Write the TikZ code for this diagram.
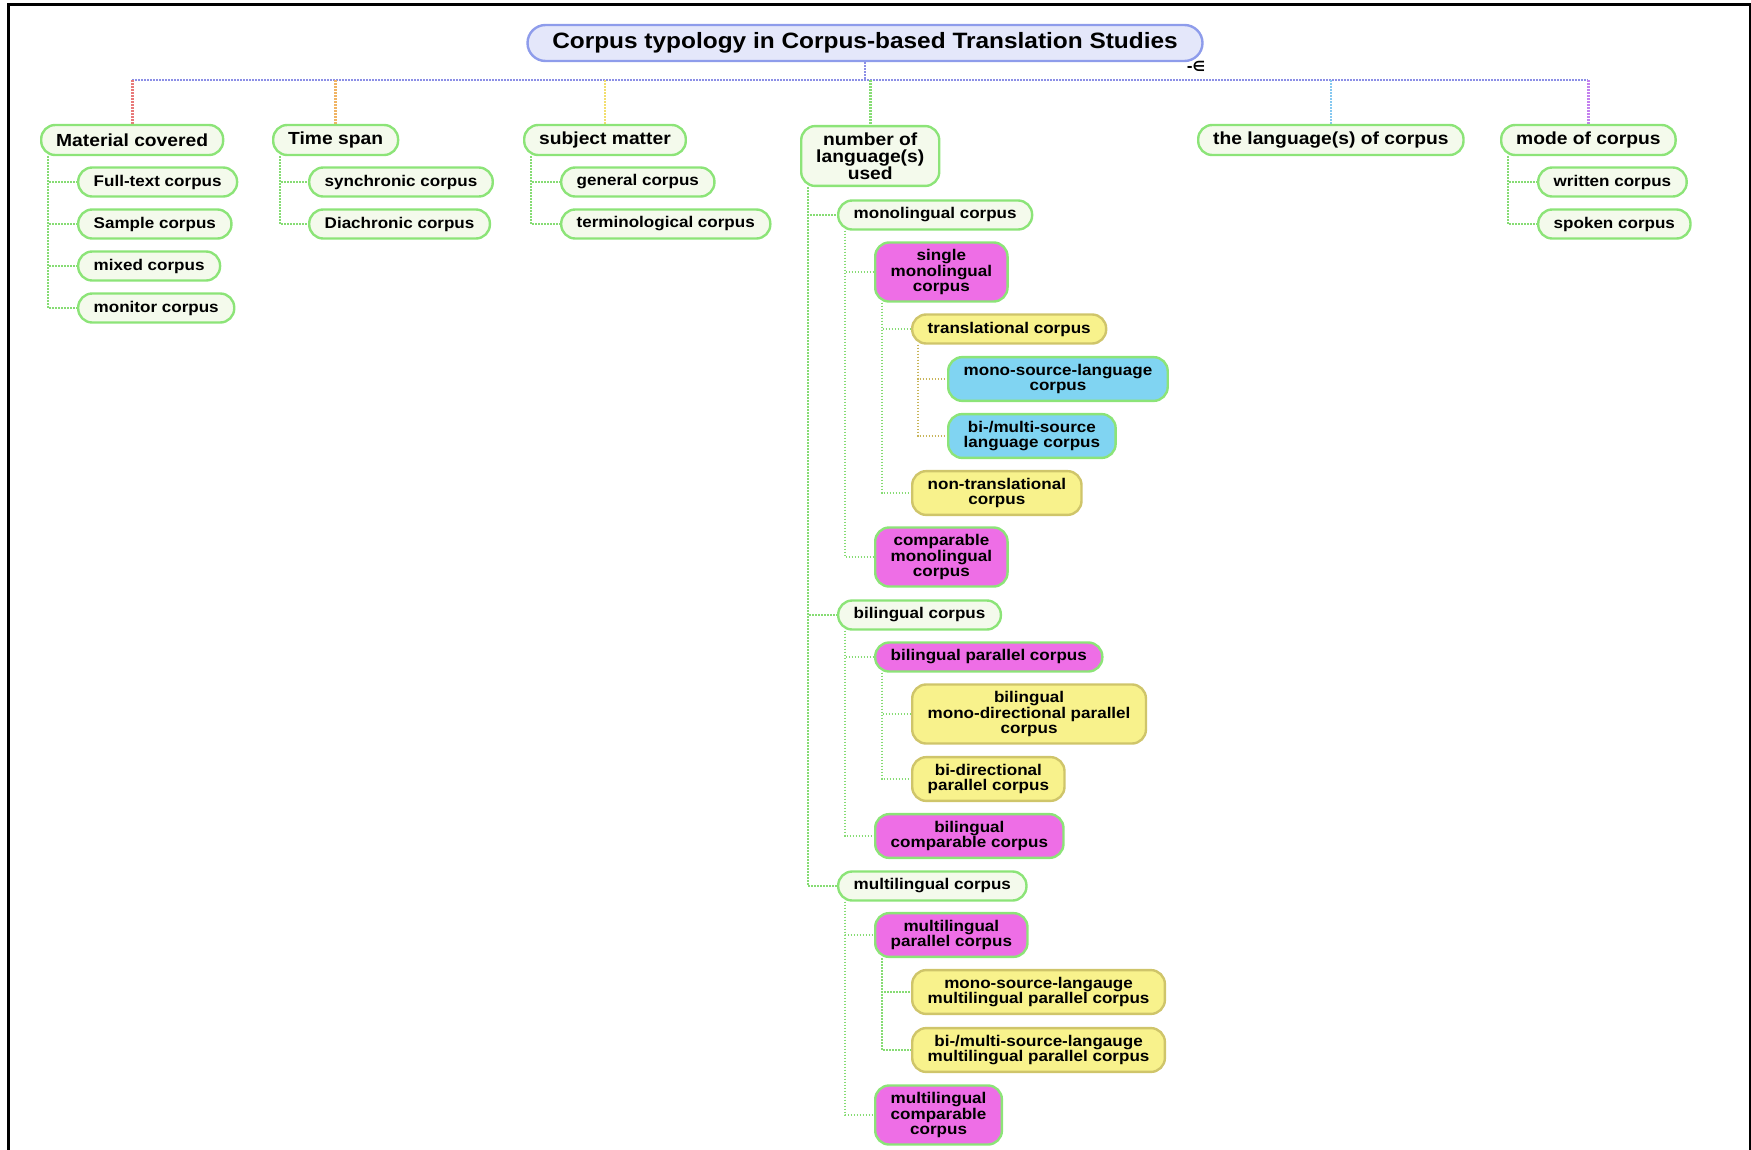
\documentclass[tikz,border=0pt]{standalone}
\usepackage{fontspec}
\setmainfont{Liberation Sans}[FakeStretch=1.1]
\newfontfamily\dejavu{DejaVu Sans}
\usetikzlibrary{backgrounds}
\definecolor{gb}{HTML}{8CE478}
\definecolor{lf}{HTML}{F4FAEC}
\definecolor{mg}{HTML}{EE6EE6}
\definecolor{yf}{HTML}{F8F28C}
\definecolor{yb}{HTML}{CFC56A}
\definecolor{bf}{HTML}{80D4F2}
\definecolor{tf}{HTML}{E4E7FA}
\definecolor{tb}{HTML}{8E9CEB}
\definecolor{gc}{HTML}{86DC74}
\definecolor{oc}{HTML}{C8B45A}
\definecolor{tl}{HTML}{8C8FE6}
\definecolor{dr}{HTML}{E87A7A}
\definecolor{do}{HTML}{F0B464}
\definecolor{dy}{HTML}{F2DE6E}
\definecolor{dlb}{HTML}{86C8F0}
\definecolor{dp}{HTML}{C482EE}
\tikzset{
  box/.style={draw=gb, line width=2.4pt, fill=lf, rounded corners=14pt,
    inner xsep=15.5pt, inner ysep=7pt, minimum height=29pt, align=center,
    font=\fontsize{15.5}{15.3}\selectfont\bfseries, anchor=west, text=black},
  cat/.style={box, font=\fontsize{17.5}{17}\selectfont\bfseries, inner xsep=15pt,
    inner ysep=6.5pt, minimum height=30pt},
  mag/.style={box, fill=mg},
  yel/.style={box, fill=yf, draw=yb},
  blu/.style={box, fill=bf},
  ttl/.style={draw=tb, line width=2.4pt, fill=tf, rounded corners=18pt,
    minimum width=675pt, minimum height=36pt, font=\fontsize{22.2}{22}\selectfont\bfseries},
  dotl/.style={line width=2.7pt, dash pattern=on 1.6pt off 1.4pt},
  conn/.style={dotl, draw=gc},
  oconn/.style={dotl, draw=oc},
}
\begin{document}
\begin{tikzpicture}[x=1pt, y=-1pt]
\useasboundingbox (0,0) rectangle (1751,1149);
\draw[line width=3pt] (8.5,1160) -- (8.5,4.5) -- (1750,4.5) -- (1750,1160);

% title
\node[ttl] (title) at (865,43) {Corpus typology in Corpus-based Translation Studies};
\node[font=\dejavu\bfseries\fontsize{14}{14}\selectfont, inner sep=0pt] (fold) at (1196,66) {-∈};

% categories
\node[cat] (mat)  at (40,140)  {Material covered};
\node[cat] (time) at (272,140) {Time span};
\node[cat] (subj) at (523,140) {subject matter};
\node[cat] (num)  at (800,156) {number of\\language(s)\\used};
\node[cat] (lang) at (1197,140) {the language(s) of corpus};
\node[cat] (mode) at (1500,140) {mode of corpus};

% material covered
\node[box] (full)    at (77,182) {Full-text corpus};
\node[box] (sample)  at (77,224) {Sample corpus};
\node[box] (mixed)   at (77,266) {mixed corpus};
\node[box] (monitor) at (77,308) {monitor corpus};
% time span
\node[box] (sync) at (308,182) {synchronic corpus};
\node[box] (dia)  at (308,224) {Diachronic corpus};
% subject matter
\node[box] (gen)  at (560,182) {general corpus};
\node[box] (term) at (560,224) {terminological corpus};
% mode
\node[box] (writ) at (1537,182) {written corpus};
\node[box] (spok) at (1537,224) {spoken corpus};

% number of languages
\node[box] (mono)   at (837,215)  {monolingual corpus};
\node[mag] (smono)  at (874,272)  {single\\monolingual\\corpus};
\node[yel] (trans)  at (911,329)  {translational corpus};
\node[blu] (msl)    at (947,379)  {mono-source-language\\corpus};
\node[blu] (bmsl)   at (947,436)  {bi-/multi-source\\language corpus};
\node[yel] (ntrans) at (911,493)  {non-translational\\corpus};
\node[mag] (cmono)  at (874,557)  {comparable\\monolingual\\corpus};
\node[box] (bi)     at (837,615)  {bilingual corpus};
\node[mag] (bipar)  at (874,657)  {bilingual parallel corpus};
\node[yel] (bimono) at (911,714)  {bilingual\\mono-directional parallel\\corpus};
\node[yel] (bidir)  at (911,779)  {bi-directional\\parallel corpus};
\node[mag] (bicomp) at (874,836)  {bilingual\\comparable corpus};
\node[box] (multi)  at (837,886)  {multilingual corpus};
\node[mag] (mpar)   at (874,935)  {multilingual\\parallel corpus};
\node[yel] (msm)    at (911,992)  {mono-source-langauge\\multilingual parallel corpus};
\node[yel] (bmsm)   at (911,1050) {bi-/multi-source-langauge\\multilingual parallel corpus};
\node[mag] (mcomp)  at (874,1115) {multilingual\\comparable\\corpus};

\begin{scope}[on background layer]
  \coordinate (hub) at (865,80);
  \draw[dotl, draw=tl] (title.south) -- (hub);
  \draw[dotl, draw=tl] (mat.north |- hub) -- (mode.north |- hub);
  \draw[dotl, draw=dr]  (mat.north |- hub)  -- (mat.north);
  \draw[dotl, draw=do]  (time.north |- hub) -- (time.north);
  \draw[dotl, draw=dy]  (subj.north |- hub) -- (subj.north);
  \draw[dotl, draw=gc]  (num.north |- hub)  -- (num.north);
  \draw[dotl, draw=dlb] (lang.north |- hub) -- (lang.north);
  \draw[dotl, draw=dp]  (mode.north |- hub) -- (mode.north);

  \foreach \c in {full,sample,mixed,monitor}
    \draw[conn] ([xshift=8pt]mat.south west) |- (\c.west);
  \foreach \c in {sync,dia}
    \draw[conn] ([xshift=8pt]time.south west) |- (\c.west);
  \foreach \c in {gen,term}
    \draw[conn] ([xshift=8pt]subj.south west) |- (\c.west);
  \foreach \c in {writ,spok}
    \draw[conn] ([xshift=8pt]mode.south west) |- (\c.west);

  \foreach \c in {mono,bi,multi}
    \draw[conn] ([xshift=8pt]num.south west) |- (\c.west);
  \foreach \c in {smono,cmono}
    \draw[conn] ([xshift=8pt]mono.south west) |- (\c.west);
  \foreach \c in {trans,ntrans}
    \draw[conn] ([xshift=8pt]smono.south west) |- (\c.west);
  \foreach \c in {msl,bmsl}
    \draw[oconn] ([xshift=7pt]trans.south west) |- (\c.west);
  \foreach \c in {bipar,bicomp}
    \draw[conn] ([xshift=8pt]bi.south west) |- (\c.west);
  \foreach \c in {bimono,bidir}
    \draw[conn] ([xshift=8pt]bipar.south west) |- (\c.west);
  \foreach \c in {mpar,mcomp}
    \draw[conn] ([xshift=8pt]multi.south west) |- (\c.west);
  \foreach \c in {msm,bmsm}
    \draw[conn] ([xshift=8pt]mpar.south west) |- (\c.west);
\end{scope}
\end{tikzpicture}
\end{document}
